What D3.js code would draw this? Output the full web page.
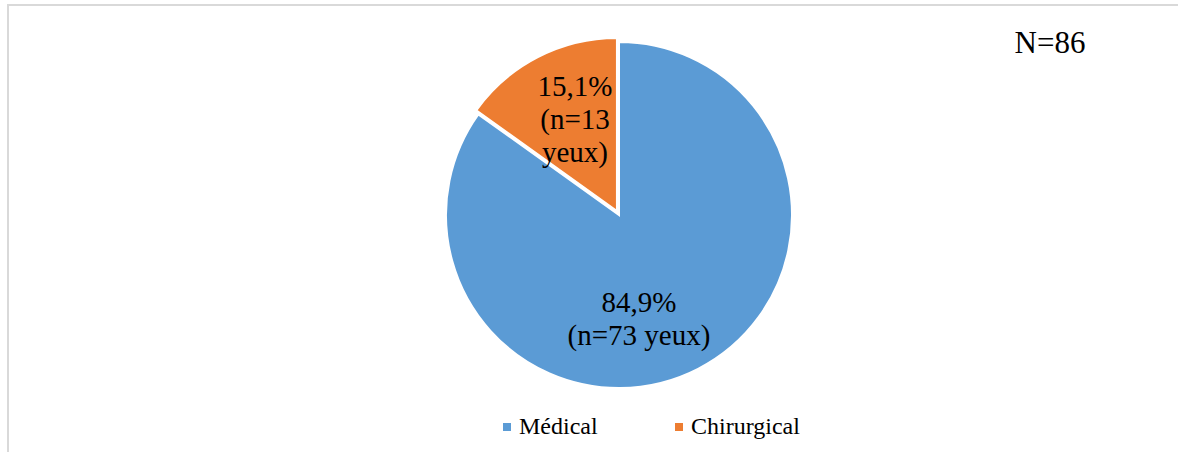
<!DOCTYPE html>
<html>
<head>
<meta charset="utf-8">
<script src="https://cdn.jsdelivr.net/npm/d3@7"></script>
<style>
  html, body { margin: 0; padding: 0; background: #fff; }
  svg { display: block; font-family: "Liberation Serif", "Times New Roman", serif; }
</style>
</head>
<body>
<svg id="chart" width="1178" height="452"></svg>
<script>
// Répartition du traitement (yeux)
const categories = ["Médical", "Chirurgical"];
const counts = [73, 13];
const percentLabels = ["84,9%", "15,1%"];
const countLabels = ["(n=73 yeux)", "(n=13 yeux)"];
const totalLabel = "N=86";
const colors = ["#5B9BD5", "#ED7D31"];

const W = 1178, H = 452;
const FONT = "Liberation Serif";
const svg = d3.select("#chart");

// Chart frame
svg.append("rect")
  .attr("x", 8).attr("y", 5)
  .attr("width", W + 20).attr("height", H + 20)
  .attr("fill", "none")
  .attr("stroke", "#d9d9d9")
  .attr("stroke-width", 2);

const cx = 619, cy = 215, r = 173;
const explode = [0, 4.5];

const pie = d3.pie().sort(null).value(d => d.value);
const data = categories.map((c, i) => ({ name: c, value: counts[i], i }));
const arcs = pie(data);
const arc = d3.arc().innerRadius(0).outerRadius(r);

const g = svg.append("g").attr("transform", `translate(${cx},${cy})`);

function offset(a, dist) {
  const mid = (a.startAngle + a.endAngle) / 2;
  return [Math.sin(mid) * dist, -Math.cos(mid) * dist];
}

g.selectAll("path.slice")
  .data(arcs)
  .join("path")
  .attr("class", "slice")
  .attr("d", arc)
  .attr("fill", d => colors[d.data.i])
  .attr("stroke", "#fff")
  .attr("stroke-width", 2)
  .attr("stroke-linejoin", "miter")
  .attr("transform", d => {
    const [dx, dy] = offset(d, explode[d.data.i]);
    return `translate(${dx},${dy})`;
  });

// Data labels (Excel "best fit" placement)
const labelPos = [[20, 97], [-44, -119]];
const labelLines = [
  [percentLabels[0], countLabels[0]],
  [percentLabels[1], "(n=13", "yeux)"]
];
const lineH = 33;

arcs.forEach(a => {
  const i = a.data.i;
  const t = g.append("text")
    .attr("text-anchor", "middle")
    .attr("font-family", FONT)
    .attr("font-size", 29)
    .attr("fill", "#000");
  labelLines[i].forEach((ln, j) => {
    t.append("tspan")
      .attr("x", labelPos[i][0])
      .attr("y", labelPos[i][1] + j * lineH)
      .text(ln);
  });
});

// Total
svg.append("text")
  .attr("x", 1050).attr("y", 53)
  .attr("text-anchor", "middle")
  .attr("font-family", FONT)
  .attr("font-size", 31)
  .attr("fill", "#000")
  .text(totalLabel);

// Legend
const legendX = [503, 675];
const legend = svg.append("g");
categories.forEach((c, i) => {
  legend.append("rect")
    .attr("x", legendX[i]).attr("y", 423)
    .attr("width", 8).attr("height", 8)
    .attr("fill", colors[i]);
  legend.append("text")
    .attr("x", legendX[i] + 16).attr("y", 434)
    .attr("font-family", FONT)
    .attr("font-size", 24)
    .attr("fill", "#000")
    .text(c);
});
</script>
</body>
</html>
